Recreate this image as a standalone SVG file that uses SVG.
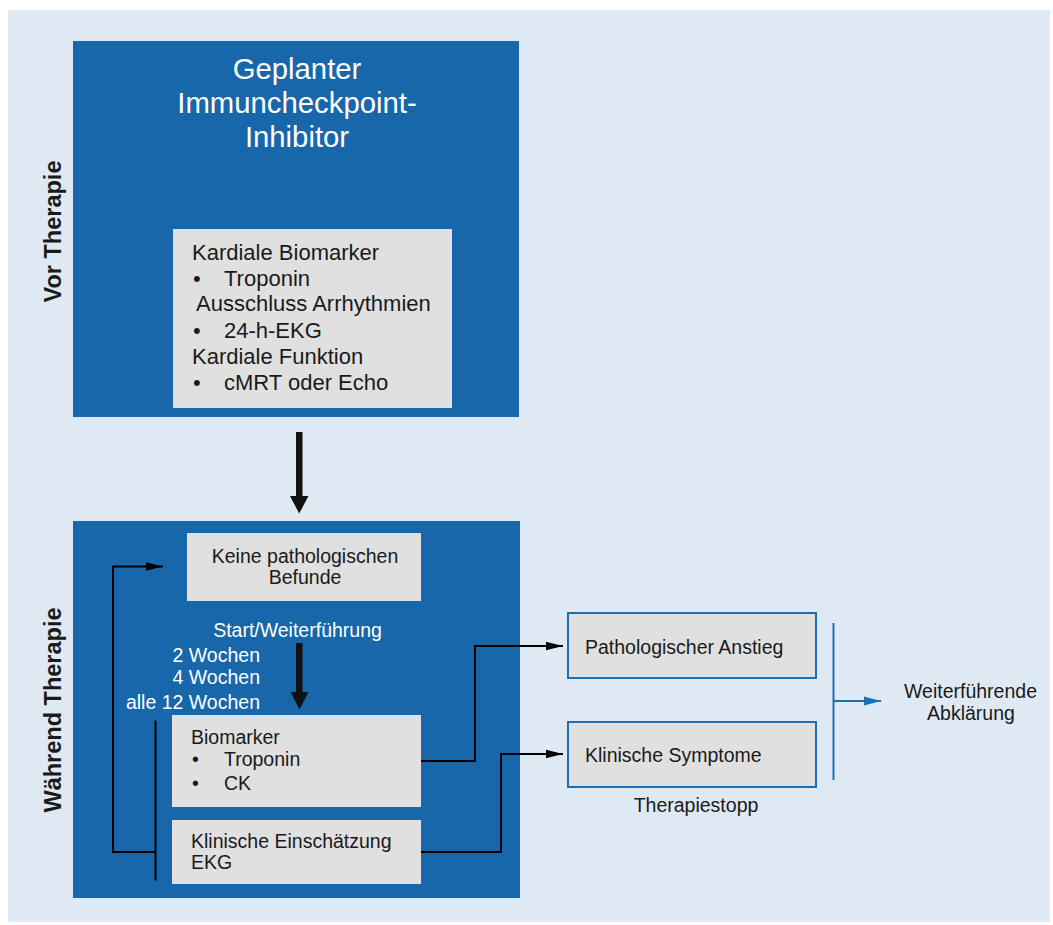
<svg xmlns="http://www.w3.org/2000/svg" width="1053" height="925" viewBox="0 0 1053 925">
<style>
  text { font-family: "Liberation Sans", Arial, sans-serif; }
  .blue { fill: #1867ab; }
  .gray { fill: #e0e0e0; }
  .dark { fill: #1a1a1a; font-size: 19.5px; }
  .dk2 { fill: #1a1a1a; font-size: 22px; }
  .wh { fill: #ffffff; font-size: 19.5px; }
  .title { fill: #ffffff; font-size: 29.3px; }
  .side { fill: #1a1a1a; font-size: 23.5px; font-weight: bold; }
  .conn { fill: none; stroke: #000; stroke-width: 2; }
  .bconn { fill: none; stroke: #1d6fb5; stroke-width: 2; }
  .rbox { fill: #e0e0e0; stroke: #1d6fb5; stroke-width: 2; }
</style>
<defs>
  <marker id="ah" markerWidth="18" markerHeight="10" refX="17" refY="5" orient="auto" markerUnits="userSpaceOnUse">
    <path d="M0,0.8 L17,5 L0,9.2 Z" fill="#000"/>
  </marker>
  <marker id="bh" markerWidth="18" markerHeight="10" refX="17" refY="5" orient="auto" markerUnits="userSpaceOnUse">
    <path d="M0,0.5 L17,5 L0,9.5 Z" fill="#1d6fb5"/>
  </marker>
</defs>
<rect x="8" y="10" width="1042" height="912" fill="#dfe9f3"/>

<g id="label-vor">
  <text class="side" text-anchor="middle" transform="translate(61,231.5) rotate(-90)">Vor Therapie</text>
</g>
<g id="label-waehrend">
  <text class="side" text-anchor="middle" transform="translate(61,710) rotate(-90)">Während Therapie</text>
</g>

<g id="vor-box">
  <rect class="blue" x="73" y="41" width="446" height="376"/>
  <text class="title" text-anchor="middle" x="297" y="79">Geplanter</text>
  <text class="title" text-anchor="middle" x="297" y="113">Immuncheckpoint-</text>
  <text class="title" text-anchor="middle" x="297" y="146.5">Inhibitor</text>
</g>

<g id="vor-inner">
  <rect class="gray" x="173" y="229" width="279" height="179"/>
  <text class="dk2" x="192" y="260">Kardiale Biomarker</text>
  <text class="dk2" x="193" y="285.5">•</text>
  <text class="dk2" x="224" y="285.5">Troponin</text>
  <text class="dk2" x="196" y="311">Ausschluss Arrhythmien</text>
  <text class="dk2" x="193" y="337.5">•</text>
  <text class="dk2" x="224" y="337.5">24-h-EKG</text>
  <text class="dk2" x="192" y="364">Kardiale Funktion</text>
  <text class="dk2" x="193" y="390">•</text>
  <text class="dk2" x="224" y="390">cMRT oder Echo</text>
</g>

<g id="waehrend-box">
  <rect class="blue" x="73" y="521" width="447" height="377"/>
  <text class="wh" text-anchor="middle" x="297.5" y="637">Start/Weiterführung</text>
  <text class="wh" text-anchor="end" x="260" y="661.5">2 Wochen</text>
  <text class="wh" text-anchor="end" x="260" y="684">4 Wochen</text>
  <text class="wh" text-anchor="end" x="260" y="708.5">alle 12 Wochen</text>
</g>

<g id="keine">
  <rect class="gray" x="187" y="533" width="234" height="68"/>
  <text class="dark" text-anchor="middle" x="305" y="562.5">Keine pathologischen</text>
  <text class="dark" text-anchor="middle" x="305" y="584">Befunde</text>
</g>

<g id="biomarker">
  <rect class="gray" x="172" y="715" width="249" height="92"/>
  <text class="dark" x="191" y="744">Biomarker</text>
  <text class="dark" x="192" y="766">•</text>
  <text class="dark" x="224" y="766">Troponin</text>
  <text class="dark" x="192" y="790">•</text>
  <text class="dark" x="224" y="790">CK</text>
</g>

<g id="klinisch">
  <rect class="gray" x="172" y="820" width="249" height="64"/>
  <text class="dark" x="191" y="847.5">Klinische Einschätzung</text>
  <text class="dark" x="191" y="869">EKG</text>
</g>

<g id="patho">
  <rect class="rbox" x="568" y="613" width="248" height="65"/>
  <text class="dark" x="585" y="654">Pathologischer Anstieg</text>
</g>

<g id="symptome">
  <rect class="rbox" x="568" y="722" width="248" height="65"/>
  <text class="dark" x="585" y="761.5">Klinische Symptome</text>
</g>

<g id="therapiestopp">
  <text class="dark" text-anchor="middle" x="696" y="811.5">Therapiestopp</text>
</g>

<g id="abklaerung">
  <text class="dark" text-anchor="middle" x="970.5" y="697.5">Weiterführende</text>
  <text class="dark" text-anchor="middle" x="971" y="720">Abklärung</text>
</g>

<g id="connectors">
  <!-- big arrows -->
  <rect x="296" y="432" width="6.5" height="65" fill="#111"/>
  <path d="M290,496 L308.5,496 L299.2,513.5 Z" fill="#111"/>
  <rect x="296" y="643" width="6.5" height="50" fill="#111"/>
  <path d="M290.5,692 L308.5,692 L299.5,709.5 Z" fill="#111"/>
  <!-- loop back -->
  <line class="conn" x1="155.5" y1="720.5" x2="155.5" y2="880.5"/>
  <polyline class="conn" points="155.5,852 113,852 113,566.5 163,566.5" marker-end="url(#ah)"/>
  <!-- to right boxes -->
  <polyline class="conn" points="421,761 475,761 475,646 563,646" marker-end="url(#ah)"/>
  <polyline class="conn" points="421,852 501,852 501,754 563,754" marker-end="url(#ah)"/>
  <!-- bracket -->
  <line class="bconn" x1="833.5" y1="623" x2="833.5" y2="780"/>
  <line class="bconn" x1="833.5" y1="701" x2="881" y2="701" marker-end="url(#bh)"/>
</g>
</svg>
